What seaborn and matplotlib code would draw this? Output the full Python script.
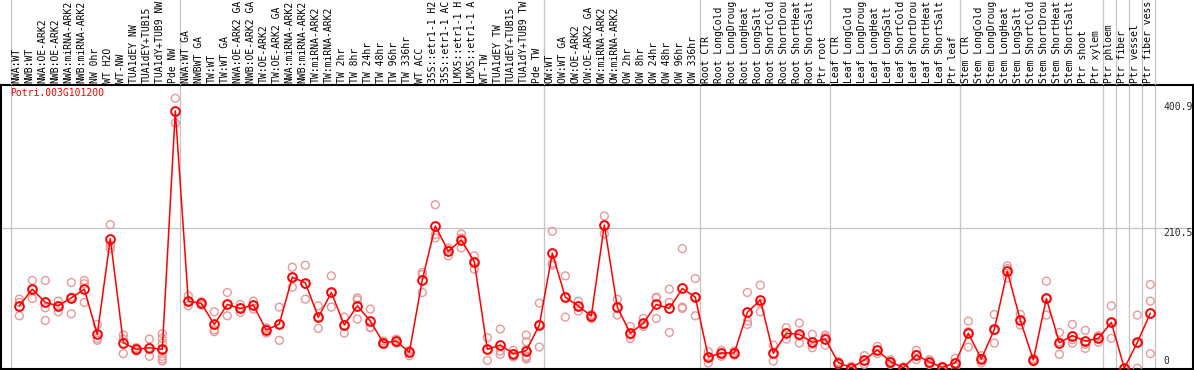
import numpy as np
import pandas as pd
import matplotlib
matplotlib.use("Agg")
import matplotlib.pyplot as plt
import seaborn as sns

gene = "Potri.003G101200"

labels = [
    "NWA:WT", "NWB:WT", "NWA:OE-ARK2", "NWB:OE-ARK2", "NWA:miRNA-ARK2", "NWB:miRNA-ARK2",
    "NW 0hr", "WT H2O", "WT-NW", "TUA1dEY NW", "TUA1dEY+TUB15", "TUA1dY+TUB9 NW", "Pde NW",
    "NWA:WT GA", "NWBWT GA", "TW:WT", "TW:WT GA", "NWA:OE-ARK2 GA", "NWB:OE-ARK2 GA",
    "TW:OE-ARK2", "TW:OE-ARK2 GA", "NWA:miRNA-ARK2", "NWB:miRNA-ARK2", "TW:miRNA-ARK2",
    "TW:miRNA-ARK2", "TW 2hr", "TW 8hr", "TW 24hr", "TW 48hr", "TW 96hr", "TW 336hr",
    "WT ACC", "35S::etr1-1 H2", "35S::etr1-1 AC", "LMX5::etr1-1 H", "LMX5::etr1-1 A",
    "WT-TW", "TUA1dEY TW", "TUA1dEY+TUB15", "TUA1dY+TUB9 TW", "Pde TW",
    "OW:WT", "OW:WT GA", "OW:OE-ARK2", "OW:OE-ARK2 GA", "OW:miRNA-ARK2", "OW:miRNA-ARK2",
    "OW 2hr", "OW 8hr", "OW 24hr", "OW 48hr", "OW 96hr", "OW 336hr",
    "Root CTR", "Root LongCold", "Root LongDroug", "Root LongHeat", "Root LongSalt",
    "Root ShortCold", "Root ShortDrou", "Root ShortHeat", "Root ShortSalt", "Ptr root",
    "Leaf CTR", "Leaf LongCold", "Leaf LongDroug", "Leaf LongHeat", "Leaf LongSalt",
    "Leaf ShortCold", "Leaf ShortDrou", "Leaf ShortHeat", "Leaf ShortSalt", "Ptr leaf",
    "Stem CTR", "Stem LongCold", "Stem LongDroug", "Stem LongHeat", "Stem LongSalt",
    "Stem ShortCold", "Stem ShortDrou", "Stem ShortHeat", "Stem ShortSalt", "Ptr shoot",
    "Ptr xylem", "Ptr phloem", "Ptr fiber", "Ptr vessel", "Ptr fiber vess",
]

means = [
    94, 119, 99, 94, 106, 119, 51, 195, 38.5, 28.5, 31, 28.5, 387,
    101, 97.7, 66, 96, 90, 95, 57.6, 66.6, 137, 128.7, 76.7, 114, 65, 94, 71, 38.5,
    41, 24, 133, 214, 176, 193, 160, 28.5, 35, 22, 26.5, 65,
    173, 107, 93.7, 78.6, 215.5, 91.7, 52.6, 67.7, 96, 90, 120, 107,
    17, 23, 23, 84, 102.7, 22.5, 52.6, 51, 39, 44,
    8.4, 1, 12.5, 27.5, 10, 1, 20, 9.5, 1.5, 8.4,
    52.6, 14, 58.6, 146, 72, 12.5, 105, 38.5, 49, 41, 45,
    69, 0, 39, 83,
]

replicates = [
    [104, 99, 79], [132, 119, 105], [132, 91, 72], [101, 94, 85], [129, 107, 82],
    [132, 127, 99], [66, 45, 42], [216, 185, 180], [50, 44, 22], [31, 29, 26],
    [44, 31, 18], [52, 45, 38, 28, 18, 14, 11], [406, 369],
    [109, 101, 94], [100, 98, 95], [85, 58, 55], [114, 96, 79], [96, 91, 84],
    [101, 95, 89], [61, 59, 53], [92, 66, 42], [152, 137, 122], [155, 127, 104],
    [94, 77, 60], [139, 114, 92], [77, 65, 53], [106, 103, 74], [89, 62, 61],
    [41, 38, 36], [44, 41, 38], [27, 26, 19], [144, 141, 114], [246, 201, 196],
    [181, 178, 169], [202, 196, 181], [169, 161, 149], [46, 28, 12], [59, 26, 21],
    [27, 22, 17], [50, 40, 28, 18, 16, 14], [98, 66, 32],
    [206, 158, 155], [139, 107, 77], [101, 94, 86], [81, 79, 75], [229, 215, 202],
    [104, 91, 80], [63, 50, 45], [75, 66, 63], [107, 106, 75], [119, 99, 54],
    [180, 92, 90], [135, 107, 79],
    [25, 17, 8], [27, 23, 18], [26, 23, 20], [114, 71, 66], [125, 98, 85],
    [35, 22, 11], [61, 53, 44], [68, 48, 38], [51, 36, 31], [50, 47, 35],
    [10, 8, 6], [3, 1, 0], [19, 12, 6], [33, 27, 22], [13, 10, 6],
    [2, 1, 0], [27, 21, 13], [13, 9, 6], [3, 1.5, 0], [15, 8, 2],
    [71, 55, 32], [19, 15, 8], [81, 57, 38], [154, 150, 136], [81, 72, 65],
    [15, 12, 10], [131, 105, 80], [54, 40, 21], [66, 43, 38], [57, 36, 30],
    [49, 47, 39],
    [94, 69, 45], [0, 0], [80, 38, 0], [126, 101, 22],
]

group_starts = [0, 13, 41, 53, 63, 73, 84, 85, 86, 87, 88]
ytick_values = [400.9, 210.5, 0]

# ---------------------------------------------------------------- style
sns.set_style("white")
plt.rcParams["font.family"] = ["DejaVu Sans Mono", "DejaVu Sans"]
FS = 7
MEAN_COL = "#FF0000"
REP_COL = "#E89898"
GRID_COL = "#C4C4C4"

W, H = 1194, 370
fig = plt.figure(figsize=(W / 100, H / 100), dpi=100)
ax_l = 0.6 / W
ax_w = 1192 / W
ax = fig.add_axes([ax_l, 1 / H, ax_w, 284 / H])
hax = fig.add_axes([ax_l, 285 / H, ax_w, 85 / H], sharex=ax)
hax.axis("off")
hax.set_ylim(0, 1)

xs = np.arange(len(labels))

# replicate points
rep_df = pd.DataFrame(
    [(i, v) for i, vals in enumerate(replicates) for v in vals], columns=["x", "value"]
)
sns.scatterplot(data=rep_df, x="x", y="value", ax=ax, marker="o", s=32,
                linewidth=1.0, legend=False, zorder=3)
pts = ax.collections[-1]
pts.set_facecolor("none")
pts.set_edgecolor(REP_COL)

# mean line
mean_df = pd.DataFrame({"x": xs, "value": means})
sns.lineplot(data=mean_df, x="x", y="value", ax=ax, color=MEAN_COL, lw=1.1,
             marker="o", markersize=6.3, markerfacecolor="none",
             markeredgecolor=MEAN_COL, markeredgewidth=1.4, zorder=4)

# group separators
for b in group_starts:
    ax.axvline(b - 0.64, color=GRID_COL, lw=0.9, zorder=1)
    hax.axvline(b - 0.64, color=GRID_COL, lw=0.9, zorder=1)
ax.axhline(ytick_values[1], color=GRID_COL, lw=0.9, zorder=1)

ax.set_xlim(-1.438, 90.25)
ax.set_ylim(-1.05, 426.0)
ax.set_xticks([])
ax.set_yticks([])
ax.set_xlabel("")
ax.set_ylabel("")
for s in ax.spines.values():
    s.set_visible(True)
    s.set_color("black")
    s.set_linewidth(1.5)

# category labels in header
for i, lab in enumerate(labels):
    hax.text(i - 0.2, 0.025, lab, rotation=90, ha="center", va="bottom",
             fontsize=FS, color="black", clip_on=False)

# gene title
ax.text(-0.72, 421, gene, color=MEAN_COL, fontsize=FS, ha="left", va="top")

# right-side value labels
xlab = (1163 - 19.3) / 13
ax.text(xlab, ytick_values[0], f"{ytick_values[0]}", fontsize=FS, ha="left", va="top")
ax.text(xlab, ytick_values[1], f"{ytick_values[1]}", fontsize=FS, ha="left", va="top")
ax.text(xlab, ytick_values[2] + 4, f"{ytick_values[2]:g}", fontsize=FS, ha="left", va="bottom")

fig.savefig("out.png", dpi=100)
